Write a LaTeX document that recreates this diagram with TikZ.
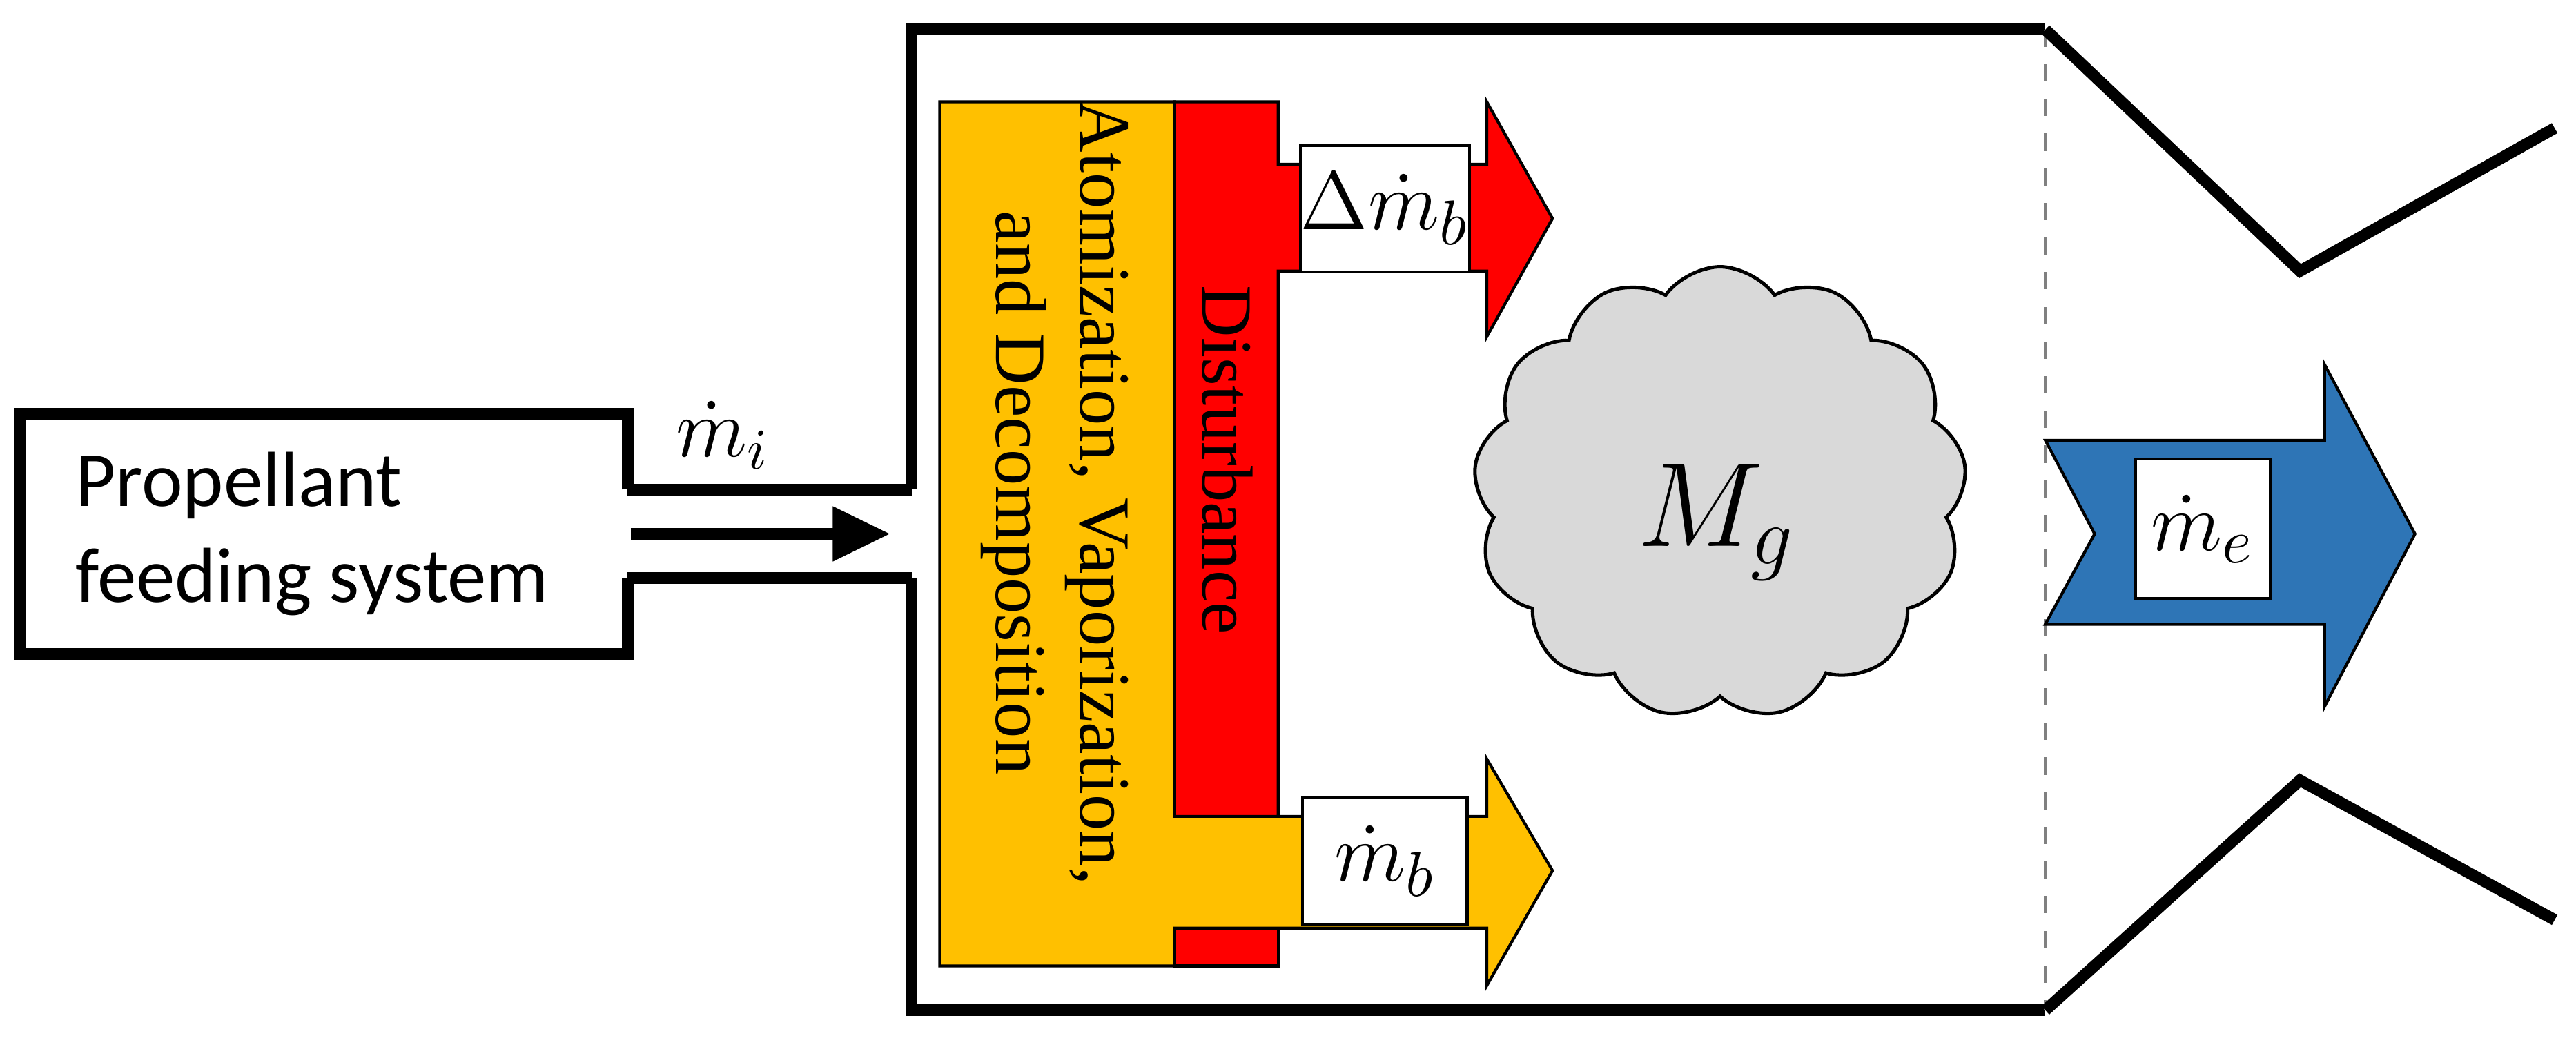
\documentclass[tikz,border=0pt]{standalone}
\usepackage{fontspec}
\setmainfont{Carlito}
\newfontfamily\serifx{Liberation Serif}
\usetikzlibrary{shapes.symbols,arrows.meta}
\definecolor{org}{HTML}{FFC000}
\definecolor{blu}{HTML}{2E75B6}
\definecolor{cld}{HTML}{D9D9D9}
\begin{document}
\begin{tikzpicture}[x=0.01cm,y=-0.01cm,
  wall/.style={line width=2pt,line join=miter},
  thin/.style={draw=black,line width=0.5pt},
  wbox/.style={draw=black,fill=white,line width=0.5pt,inner sep=0pt,minimum width=1cm,minimum height=0.77cm,font=\fontsize{15}{17}\selectfont}]
\useasboundingbox (0,0) rectangle (1568,637);
% chamber
\draw[wall] (555,298)--(555,18)--(1245,18);
\draw[wall] (555,352)--(555,615)--(1245,615);
\draw[gray,dashed,line width=0.6pt] (1245,18)--(1245,615);
\draw[wall] (1245,18)--(1400,165)--(1555,78);
\draw[wall] (1245,615)--(1400,475)--(1555,560);
% feed
\draw[wall] (382,298)--(382,252)--(12,252)--(12,398)--(382,398)--(382,352);
\draw[wall] (382,298)--(555,298);
\draw[wall] (382,352)--(555,352);
\node[align=left,font=\fontsize{13.5}{16.5}\selectfont] (prop) at (190,325) {Propellant\\feeding system};
\coordinate (a0) at (384,325); \coordinate (a1) at (542,325);
\draw[line width=2pt,-{Triangle[length=10pt,width=9pt]}] (a0)--(a1);
\node (mi) at (440,265) {\fontsize{14}{16}\selectfont$\dot m_i$};
% orange
\filldraw[fill=org,thin] (572,62)--(715,62)--(715,497)--(905,497)--(905,462)--(945,530)--(905,600)--(905,565)--(778,565)--(715,565)--(715,588)--(572,588)--cycle;
% red
\filldraw[fill=red,thin] (715,62)--(778,62)--(778,100)--(905,100)--(905,62)--(945,133)--(905,205)--(905,165)--(778,165)--(778,497)--(715,497)--cycle;
\filldraw[fill=red,thin] (715,565)--(778,565)--(778,588)--(715,588)--cycle;
\node[rotate=-90,font=\serifx\fontsize{12.5}{15}\selectfont] (dist) at (747,280) {Disturbance};
\node[rotate=-90,align=center,font=\serifx\fontsize{12.5}{14.5}\selectfont] (atom) at (642,300) {Atomization, Vaporization,\\and Decomposition};
\node[wbox] (dmb) at (843,127) {$\Delta\dot m_b$};
\node[wbox] (mb) at (843,524) {$\dot m_b$};
% cloud
\node[cloud,cloud puffs=13,cloud puff arc=110,aspect=1.1,draw=black,fill=cld,line width=0.6pt,minimum width=3cm,minimum height=2.75cm] (cl) at (1047,300) {};
\node (mg) at (1045,318) {\fontsize{20}{22}\selectfont$M_g$};
% blue
\filldraw[fill=blu,thin] (1245,268)--(1415,268)--(1415,222)--(1470,325)--(1415,430)--(1415,380)--(1245,380)--(1275,325)--cycle;
\node[wbox,minimum width=0.82cm,minimum height=0.85cm] (me) at (1341,322) {$\dot m_e$};
\end{tikzpicture}
\end{document}
